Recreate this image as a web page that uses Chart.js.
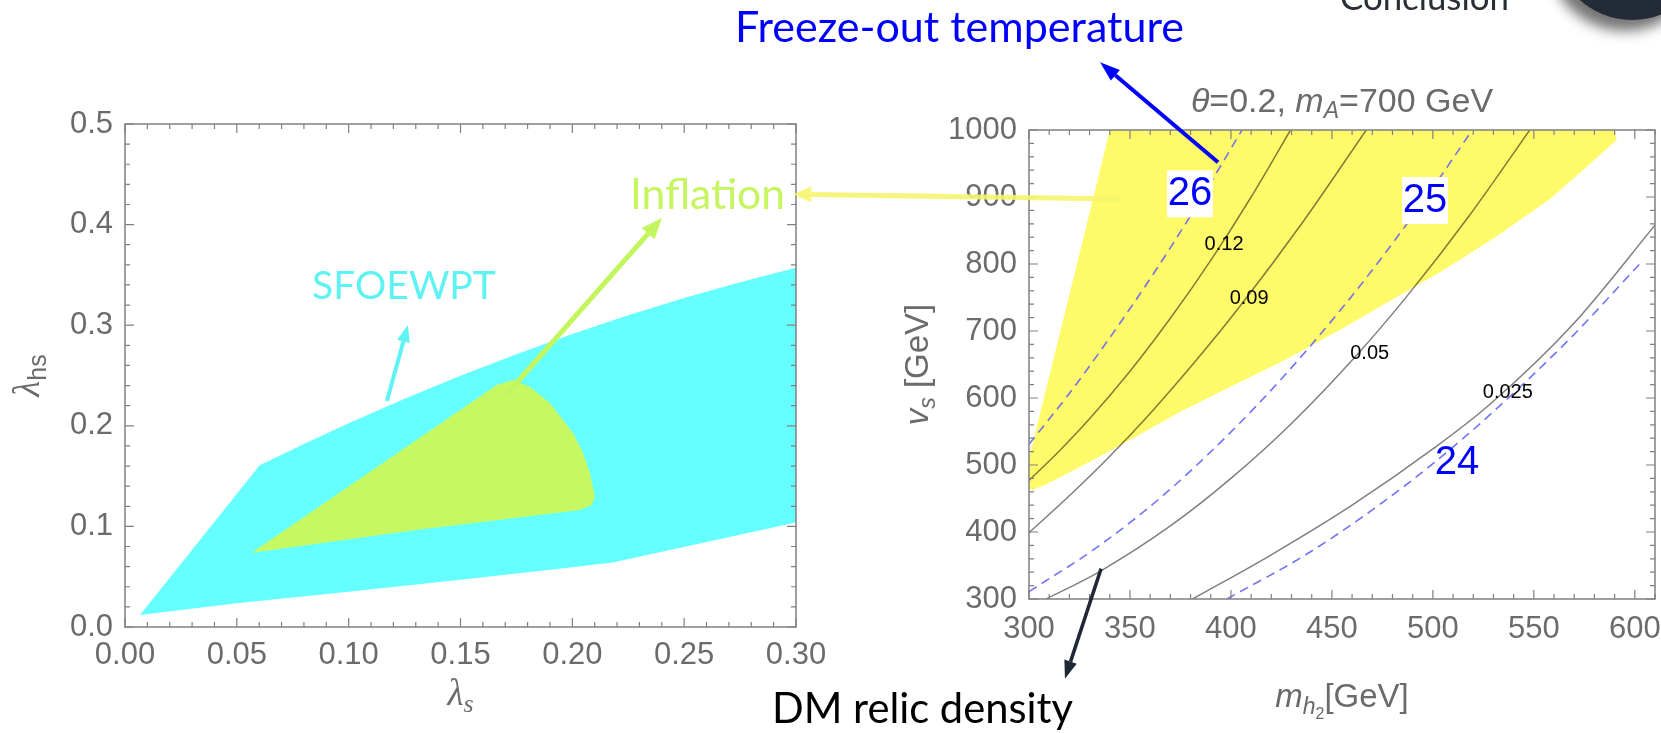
<!DOCTYPE html>
<html><head><meta charset="utf-8">
<script src="https://cdn.jsdelivr.net/npm/chart.js"></script>
<style>
html,body{margin:0;padding:0;background:#fff;width:1661px;height:733px;overflow:hidden;position:relative;}
canvas{position:absolute;left:0;top:0;}
.note{position:absolute;white-space:nowrap;margin:0;padding:0;}
#circle{position:absolute;left:1554px;top:-136px;width:156px;height:156px;border-radius:50%;background:#232b37;box-shadow:-7px 11px 13px rgba(0,0,0,0.55);}
</style></head><body>
<div id="circle"></div>
<canvas id="leftC" width="1661" height="733"></canvas>
<canvas id="rightC" width="1661" height="733"></canvas>
<canvas id="overC" width="1661" height="733"></canvas>
<script>
// ---------------- DATA ----------------
// left panel: lambda_s (x) vs lambda_hs (y)
const LAMBDA_S_TICKS  = [0, 0.05, 0.1, 0.15, 0.2, 0.25, 0.3];
const LAMBDA_S_LABELS = ['0.00','0.05','0.10','0.15','0.20','0.25','0.30'];
const LAMBDA_HS_TICKS  = [0, 0.1, 0.2, 0.3, 0.4, 0.5];
const LAMBDA_HS_LABELS = ['0.0','0.1','0.2','0.3','0.4','0.5'];
// SFOEWPT region boundary
const SFO_X = [0.0067, 0.0602, 0.080, 0.100, 0.125, 0.150, 0.175, 0.200, 0.225, 0.250, 0.275, 0.300, 0.300, 0.218, 0.200, 0.150, 0.100, 0.050, 0.0067];
const SFO_Y = [0.012, 0.1607, 0.1819, 0.2025, 0.2268, 0.2498, 0.2712, 0.2913, 0.3099, 0.3270, 0.3427, 0.357, 0.1038, 0.064, 0.0595, 0.047, 0.035, 0.0235, 0.012];
// Inflation region boundary
const INF_X = [0.0567, 0.1662, 0.1736, 0.181, 0.190, 0.2004, 0.2049, 0.2079, 0.2101, 0.2086, 0.2034, 0.130, 0.0567];
const INF_Y = [0.0739, 0.2406, 0.2455, 0.2389, 0.2224, 0.1926, 0.1727, 0.1528, 0.1295, 0.1213, 0.1163, 0.0965, 0.0739];

// right panel: m_h2 (x) vs v_s (y)
const MH2_TICKS  = [300, 350, 400, 450, 500, 550, 600];
const MH2_LABELS = ['300','350','400','450','500','550','600'];
const VS_TICKS  = [300, 400, 500, 600, 700, 800, 900, 1000];
const VS_LABELS = ['300','400','500','600','700','800','900','1000'];
// inflation-allowed (yellow) region
const YEL_X = [340, 590, 591, 578, 558, 532, 506, 480, 453, 427, 400, 374, 348, 324, 308, 301.5, 300, 300, 331.8, 340];
const YEL_Y = [1000, 1000, 985, 950, 897, 842, 792, 747, 700, 657, 617, 578, 534, 495, 470, 463, 466, 510, 898, 1000];
// relic density contours (solid)
const OM012_X = [300, 315, 330, 350, 370, 391, 410, 429.5];
const OM012_Y = [477, 521, 569, 640, 719, 810, 900, 1000];
const OM009_X = [300, 320, 340, 360, 383, 404, 435, 467];
const OM009_Y = [399, 454, 513, 577, 657, 735, 860, 1000];
const OM005_X = [308.5, 335, 370, 400, 430, 462, 488, 518, 548];
const OM005_Y = [300, 341, 409, 480, 562, 663, 755, 872, 1000];
const OM0025_X = [381, 420, 460, 500, 528, 570, 610];
const OM0025_Y = [300, 366, 440, 524, 590, 712, 858];
// freeze-out contours (dashed)
const TF26_X = [300, 320, 340, 360, 380, 405.5];
const TF26_Y = [531, 607, 690, 778, 872, 1000];
const TF25_X = [300, 335, 370, 410, 440, 470, 500, 519.5];
const TF25_Y = [311, 380, 464, 580, 680, 791, 914, 1000];
const TF24_X = [398, 437, 470, 500, 529, 568, 603];
const TF24_Y = [300, 366, 433, 502, 577, 689, 802];
// contour labels
const OM_LABELS  = ['0.12', '0.09', '0.05', '0.025'];
const OM_LABEL_X = [396.6, 409, 468.7, 537.1];
const OM_LABEL_Y = [828.4, 747.8, 665.7, 608.2];
const TF_LABELS  = ['26', '25', '24'];
const TF_LABEL_X = [379.7, 496.1, 512];
const TF_LABEL_Y = [905.5, 895.5, 504.5];
const TF_LABEL_BOX = [true, true, false];

// annotation arrows (data coordinates of the panel they sit in)
const ARROW_SFO = [0.1171, 0.2247, 0.1265, 0.3002];   // left panel
const ARROW_INF = [0.1703, 0.2306, 0.2401, 0.4066];   // left panel
const ARROW_YEL_FROM = [345, 897];                      // right panel
const ARROW_YEL_TO = [0.2988, 0.4301];                  // left panel
const ARROW_TF = [393.6, 952, 335.2, 1101];             // right panel
const ARROW_DM = [335.7, 345.4, 317.8, 181];            // right panel

// ---------------- helpers ----------------
const TICK_FONT = {family: '"Liberation Sans", Arial, sans-serif', size: 31};
const GRAY = '#6b6b6b';
const pts = (xs, ys) => xs.map((x, i) => ({x, y: ys[i]}));

function framePlugin(xMinor, yMinor) {
  return {
    id: 'frameTicks',
    afterDatasetsDraw(chart) {
      const {ctx, chartArea: a, scales: {x, y}} = chart;
      ctx.save();
      ctx.strokeStyle = '#808080'; ctx.lineWidth = 1.5;
      ctx.strokeRect(a.left, a.top, a.right - a.left, a.bottom - a.top);
      ctx.lineWidth = 1.2;
      const majX = x.ticks.map(t => t.value), majY = y.ticks.map(t => t.value);
      const isMaj = (v, arr) => arr.some(m => Math.abs(m - v) < 1e-9);
      const vals = (s, step) => { const out = []; const n = Math.round((s.max - s.min) / step); for (let k = 0; k <= n; k++) out.push(+(s.min + k * step).toFixed(6)); return out; };
      ctx.beginPath();
      vals(x, xMinor).forEach(v => {
        const len = isMaj(v, majX) ? 9 : 5; const px = x.getPixelForValue(v);
        ctx.moveTo(px, a.bottom); ctx.lineTo(px, a.bottom - len);
        ctx.moveTo(px, a.top); ctx.lineTo(px, a.top + len);
      });
      vals(y, yMinor).forEach(v => {
        const len = isMaj(v, majY) ? 9 : 5; const py = y.getPixelForValue(v);
        ctx.moveTo(a.left, py); ctx.lineTo(a.left + len, py);
        ctx.moveTo(a.right, py); ctx.lineTo(a.right - len, py);
      });
      ctx.stroke();
      ctx.restore();
    }
  };
}

function drawRich(ctx, parts, x, y, rot, color) {
  ctx.save(); ctx.translate(x, y); if (rot) ctx.rotate(rot);
  let total = 0;
  parts.forEach(p => { ctx.font = p.f; p.w = ctx.measureText(p.t).width; total += p.w; });
  let cx = -total / 2;
  ctx.fillStyle = color; ctx.textBaseline = 'alphabetic'; ctx.textAlign = 'left';
  parts.forEach(p => { ctx.font = p.f; ctx.fillText(p.t, cx, p.dy || 0); cx += p.w; });
  ctx.restore();
}

function scaleOpts(min, max, ticks, labels, isX, size, pad) {
  return {
    type: 'linear', min, max,
    grid: {display: false, drawTicks: false}, border: {display: false},
    ticks: {font: TICK_FONT, color: GRAY, padding: pad, autoSkip: false, maxRotation: 0,
            callback: (v, i) => labels[i]},
    afterBuildTicks: s => { s.ticks = ticks.map(v => ({value: v})); },
    afterFit: s => {
      if (isX) { s.height = size; } else { s.width = size; }
      s.paddingLeft = 0; s.paddingRight = 0; s.paddingTop = 0; s.paddingBottom = 0;
    }
  };
}

// ---------------- left chart ----------------
const leftChart = new Chart(document.getElementById('leftC'), {
  type: 'line',
  data: {datasets: [
    {label: 'Inflation', data: pts(INF_X, INF_Y), order: 1, fill: 'shape', borderWidth: 0, pointRadius: 0,
     backgroundColor: '#c6f862', tension: 0},
    {label: 'SFOEWPT', data: pts(SFO_X, SFO_Y), order: 2, fill: 'shape', borderWidth: 0, pointRadius: 0,
     backgroundColor: '#66ffff', tension: 0}
  ]},
  options: {
    responsive: false, animation: false, devicePixelRatio: 1, events: [],
    layout: {padding: {left: 65, top: 124, right: 865, bottom: 56}},
    plugins: {legend: {display: false}, tooltip: {enabled: false}},
    scales: {
      x: scaleOpts(0, 0.3, LAMBDA_S_TICKS, LAMBDA_S_LABELS, true, 50, 10),
      y: scaleOpts(0, 0.5, LAMBDA_HS_TICKS, LAMBDA_HS_LABELS, false, 60, 12)
    }
  },
  plugins: [framePlugin(0.01, 0.02), {
    id: 'leftTitles',
    afterDraw(chart) {
      const {ctx, chartArea: a} = chart;
      const cx = (a.left + a.right) / 2, cy = (a.top + a.bottom) / 2;
      drawRich(ctx, [{t: 'λ', f: 'italic 37px "Liberation Serif", serif'},
                     {t: 's', f: 'italic 26px "Liberation Serif", serif', dy: 7}], cx, a.bottom + 78, 0, GRAY);
      drawRich(ctx, [{t: 'λ', f: 'italic 37px "Liberation Serif", serif'},
                     {t: 'hs', f: '25px "Liberation Sans", sans-serif', dy: 7}], a.left - 86, cy, -Math.PI / 2, GRAY);
    }
  }]
});

// ---------------- right chart ----------------
const solid = (xs, ys, lab) => ({label: lab, data: pts(xs, ys), order: 1, borderColor: 'rgba(0,0,0,0.5)', borderWidth: 1.5,
  pointRadius: 0, fill: false, cubicInterpolationMode: 'monotone'});
const dashed = (xs, ys, lab) => ({label: lab, data: pts(xs, ys), order: 1, borderColor: 'rgba(100,100,245,0.9)', borderWidth: 1.6,
  borderDash: [9, 6], pointRadius: 0, fill: false, cubicInterpolationMode: 'monotone'});

const rightChart = new Chart(document.getElementById('rightC'), {
  type: 'line',
  data: {datasets: [
    solid(OM012_X, OM012_Y, '0.12'), solid(OM009_X, OM009_Y, '0.09'),
    solid(OM005_X, OM005_Y, '0.05'), solid(OM0025_X, OM0025_Y, '0.025'),
    dashed(TF26_X, TF26_Y, '26'), dashed(TF25_X, TF25_Y, '25'), dashed(TF24_X, TF24_Y, '24'),
    {label: 'Inflation', data: pts(YEL_X, YEL_Y), order: 5, fill: 'shape', borderWidth: 0, pointRadius: 0,
     backgroundColor: 'rgb(255,250,105)', tension: 0}
  ]},
  options: {
    responsive: false, animation: false, devicePixelRatio: 1, events: [],
    layout: {padding: {left: 949, top: 130, right: 6, bottom: 84}},
    plugins: {legend: {display: false}, tooltip: {enabled: false}},
    scales: {
      x: scaleOpts(300, 610, MH2_TICKS, MH2_LABELS, true, 50, 12),
      y: scaleOpts(300, 1000, VS_TICKS, VS_LABELS, false, 80, 12)
    }
  },
  plugins: [framePlugin(10, 20), {
    id: 'rightLabels',
    afterDatasetsDraw(chart) {
      const {ctx, scales: {x, y}} = chart;
      ctx.save();
      ctx.textAlign = 'center'; ctx.textBaseline = 'middle';
      ctx.font = '20px "Liberation Sans", Arial, sans-serif'; ctx.fillStyle = '#000';
      OM_LABELS.forEach((t, i) => ctx.fillText(t, x.getPixelForValue(OM_LABEL_X[i]), y.getPixelForValue(OM_LABEL_Y[i])));
      ctx.font = '40px "Liberation Sans", Arial, sans-serif';
      TF_LABELS.forEach((t, i) => {
        const px = x.getPixelForValue(TF_LABEL_X[i]), py = y.getPixelForValue(TF_LABEL_Y[i]);
        if (TF_LABEL_BOX[i]) { ctx.fillStyle = '#fff'; ctx.fillRect(px - 23, py - 23, 46, 47); }
        ctx.fillStyle = '#0000ff'; ctx.fillText(t, px, py + 1);
      });
      ctx.restore();
    },
    afterDraw(chart) {
      const {ctx, chartArea: a} = chart;
      const cx = (a.left + a.right) / 2, cy = (a.top + a.bottom) / 2;
      const S = '"Liberation Sans", Arial, sans-serif';
      drawRich(ctx, [{t: 'θ', f: 'italic 34px ' + S}, {t: '=0.2, ', f: '34px ' + S},
                     {t: 'm', f: 'italic 34px ' + S}, {t: 'A', f: 'italic 23px ' + S, dy: 6},
                     {t: '=700 GeV', f: '34px ' + S}], cx, a.top - 18, 0, GRAY);
      drawRich(ctx, [{t: 'm', f: 'italic 33px ' + S}, {t: 'h', f: 'italic 23px ' + S, dy: 7},
                     {t: '2', f: '16px ' + S, dy: 12}, {t: '[GeV]', f: '33px ' + S}], cx, a.bottom + 108, 0, GRAY);
      drawRich(ctx, [{t: 'v', f: 'italic 33px ' + S}, {t: 's', f: 'italic 23px ' + S, dy: 7},
                     {t: ' [GeV]', f: '33px ' + S}], a.left - 101, cy, -Math.PI / 2, GRAY);
    }
  }]
});

// ---------------- annotations ----------------
function arrow(ctx, x0, y0, x1, y1, color, w, hl, hw) {
  const ang = Math.atan2(y1 - y0, x1 - x0);
  const bx = x1 - hl * Math.cos(ang), by = y1 - hl * Math.sin(ang);
  ctx.strokeStyle = color; ctx.lineWidth = w; ctx.lineCap = 'butt';
  ctx.beginPath(); ctx.moveTo(x0, y0); ctx.lineTo(bx, by); ctx.stroke();
  ctx.fillStyle = color; ctx.beginPath(); ctx.moveTo(x1, y1);
  ctx.lineTo(bx + hw / 2 * Math.sin(ang), by - hw / 2 * Math.cos(ang));
  ctx.lineTo(bx - hw / 2 * Math.sin(ang), by + hw / 2 * Math.cos(ang));
  ctx.closePath(); ctx.fill();
}
(function drawOverlay() {
  const ctx = document.getElementById('overC').getContext('2d');
  const L = leftChart.scales, R = rightChart.scales;
  const lp = (x, y) => [L.x.getPixelForValue(x), L.y.getPixelForValue(y)];
  const rp = (x, y) => [R.x.getPixelForValue(x), R.y.getPixelForValue(y)];
  arrow(ctx, ...lp(ARROW_SFO[0], ARROW_SFO[1]), ...lp(ARROW_SFO[2], ARROW_SFO[3]), '#5ff3f3', 4, 17, 13);
  arrow(ctx, ...lp(ARROW_INF[0], ARROW_INF[1]), ...lp(ARROW_INF[2], ARROW_INF[3]), '#c3f55f', 5, 21, 17);
  arrow(ctx, ...rp(ARROW_YEL_FROM[0], ARROW_YEL_FROM[1]), ...lp(ARROW_YEL_TO[0], ARROW_YEL_TO[1]), 'rgba(245,245,110,0.9)', 5, 18, 16);
  arrow(ctx, ...rp(ARROW_TF[0], ARROW_TF[1]), ...rp(ARROW_TF[2], ARROW_TF[3]), '#0000ff', 4, 20, 14);
  arrow(ctx, ...rp(ARROW_DM[0], ARROW_DM[1]), ...rp(ARROW_DM[2], ARROW_DM[3]), '#1f2836', 3.5, 18, 13);
})();

function placeNote(text, family, color, x0, x1, baseline) {
  const c = document.createElement('canvas').getContext('2d');
  c.font = '100px ' + family;
  const size = 100 * (x1 - x0) / c.measureText(text).width;
  c.font = size + 'px ' + family;
  const m = c.measureText(text);
  const A = m.fontBoundingBoxAscent, D = m.fontBoundingBoxDescent;
  const el = document.createElement('div');
  el.className = 'note'; el.textContent = text;
  Object.assign(el.style, {fontFamily: family, fontSize: size + 'px', lineHeight: size + 'px', color,
    left: x0 + 'px', top: (baseline - ((size - (A + D)) / 2 + A)) + 'px'});
  document.body.appendChild(el);
}
const NOTE_FONT = 'Lato, "Open Sans", sans-serif';
placeNote('Freeze-out temperature', NOTE_FONT, '#0000ff', 735, 1184, 42);
placeNote('SFOEWPT', NOTE_FONT, '#5ef2f2', 312, 496, 299);
placeNote('Inflation', NOTE_FONT, '#c5f55f', 630, 785, 210);
placeNote('DM relic density', NOTE_FONT, '#000000', 772, 1073, 724);
placeNote('Conclusion', NOTE_FONT, '#2a2f37', 1340, 1509, 11);
</script>
</body></html>
